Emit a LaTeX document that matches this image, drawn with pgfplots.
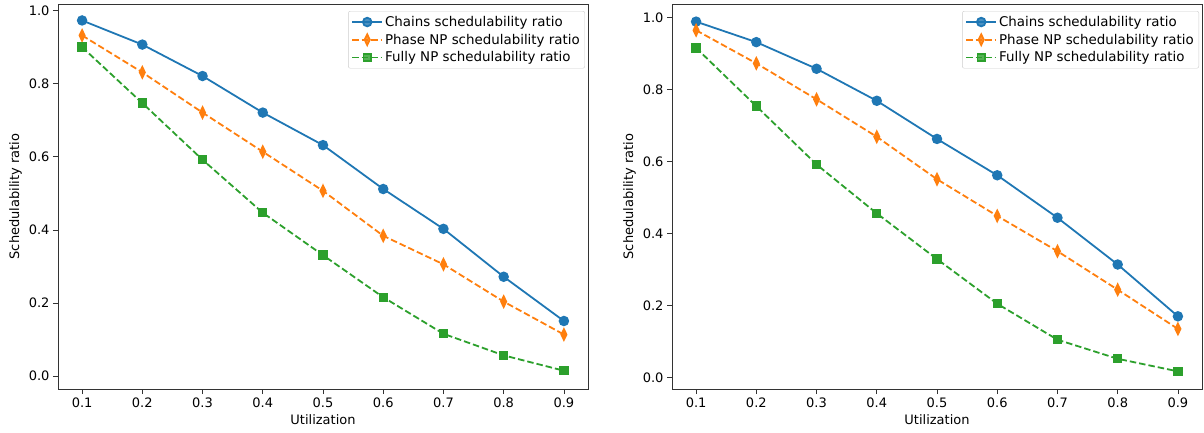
\documentclass[border=0pt]{standalone}
\usepackage{fontspec}
\setmainfont{DejaVu Sans}
\usepackage{pgfplots}
\pgfplotsset{compat=1.18}

\definecolor{cblue}{HTML}{1F77B4}
\definecolor{corange}{HTML}{FF7F0E}
\definecolor{cgreen}{HTML}{2CA02C}

\pgfplotsset{
  sched/.style={
    scale only axis,
    width=530pt, height=385pt,
    xmin=0.06, xmax=0.94,
    xtick={0.1,0.2,...,0.9},
    ytick={0,0.2,...,1.0},
    xticklabel style={/pgf/number format/.cd,fixed,fixed zerofill,precision=1},
    yticklabel style={/pgf/number format/.cd,fixed,fixed zerofill,precision=1},
    /pgf/number format/assume math mode=true,
    tick label style={font=\fontsize{13}{15}\selectfont},
    label style={font=\fontsize{13}{15}\selectfont},
    xlabel={Utilization},
    ylabel={Schedulability ratio},
    tick align=outside,
    xtick pos=bottom, ytick pos=left,
    major tick length=5pt,
    every tick/.style={black!80, line width=0.8pt},
    axis line style={black!80, line width=0.9pt},
    legend cell align=left,
    legend style={
      at={(1,1)}, anchor=north east, xshift=-3pt, yshift=-7pt,
      font=\fontsize{13.4}{15.5}\selectfont,
      draw=black!20, rounded corners=2pt, fill=white, fill opacity=0.8, text opacity=1,
      row sep=2pt, inner sep=3pt,
    },
    legend image code/.code={
      \draw[mark repeat=2,mark phase=2,#1] plot coordinates {(0pt,0pt) (15pt,0pt) (30pt,0pt)};
    },
    chains/.style={cblue, line width=1.8pt, mark=*, mark size=4.3pt, mark options={solid, fill=cblue, draw=cblue}},
    phase/.style={corange, line width=1.8pt, dash pattern=on 6.5pt off 3pt, mark=diamond*, mark size=5.3pt,
      mark options={solid, fill=corange, draw=corange, xscale=0.65}},
    fully/.style={cgreen, line width=1.8pt, dash pattern=on 6.5pt off 3pt, mark=square*, mark size=3.8pt,
      mark options={solid, fill=cgreen, draw=cgreen}},
  }
}

\begin{document}
\begin{tikzpicture}
\begin{axis}[sched, ymin=-0.035, ymax=1.018]
\addplot[chains] coordinates {
  (0.1,0.973) (0.2,0.907) (0.3,0.821) (0.4,0.721) (0.5,0.632)
  (0.6,0.512) (0.7,0.403) (0.8,0.272) (0.9,0.151)
};
\addlegendentry{Chains schedulability ratio}
\addplot[phase] coordinates {
  (0.1,0.932) (0.2,0.831) (0.3,0.721) (0.4,0.614) (0.5,0.507)
  (0.6,0.384) (0.7,0.306) (0.8,0.204) (0.9,0.114)
};
\addlegendentry{Phase NP schedulability ratio}
\addplot[fully] coordinates {
  (0.1,0.900) (0.2,0.747) (0.3,0.592) (0.4,0.447) (0.5,0.331)
  (0.6,0.216) (0.7,0.116) (0.8,0.057) (0.9,0.015)
};
\addlegendentry{Fully NP schedulability ratio}
\end{axis}

\begin{axis}[sched, xshift=614pt, ymin=-0.032, ymax=1.038]
\addplot[chains] coordinates {
  (0.1,0.989) (0.2,0.932) (0.3,0.858) (0.4,0.769) (0.5,0.663)
  (0.6,0.562) (0.7,0.444) (0.8,0.314) (0.9,0.170)
};
\addlegendentry{Chains schedulability ratio}
\addplot[phase] coordinates {
  (0.1,0.965) (0.2,0.873) (0.3,0.773) (0.4,0.669) (0.5,0.551)
  (0.6,0.449) (0.7,0.351) (0.8,0.244) (0.9,0.135)
};
\addlegendentry{Phase NP schedulability ratio}
\addplot[fully] coordinates {
  (0.1,0.916) (0.2,0.754) (0.3,0.592) (0.4,0.456) (0.5,0.329)
  (0.6,0.205) (0.7,0.105) (0.8,0.052) (0.9,0.017)
};
\addlegendentry{Fully NP schedulability ratio}
\end{axis}
\pgfresetboundingbox
\useasboundingbox (-58pt,-43pt) rectangle (1146pt,389pt);
\end{tikzpicture}
\end{document}
